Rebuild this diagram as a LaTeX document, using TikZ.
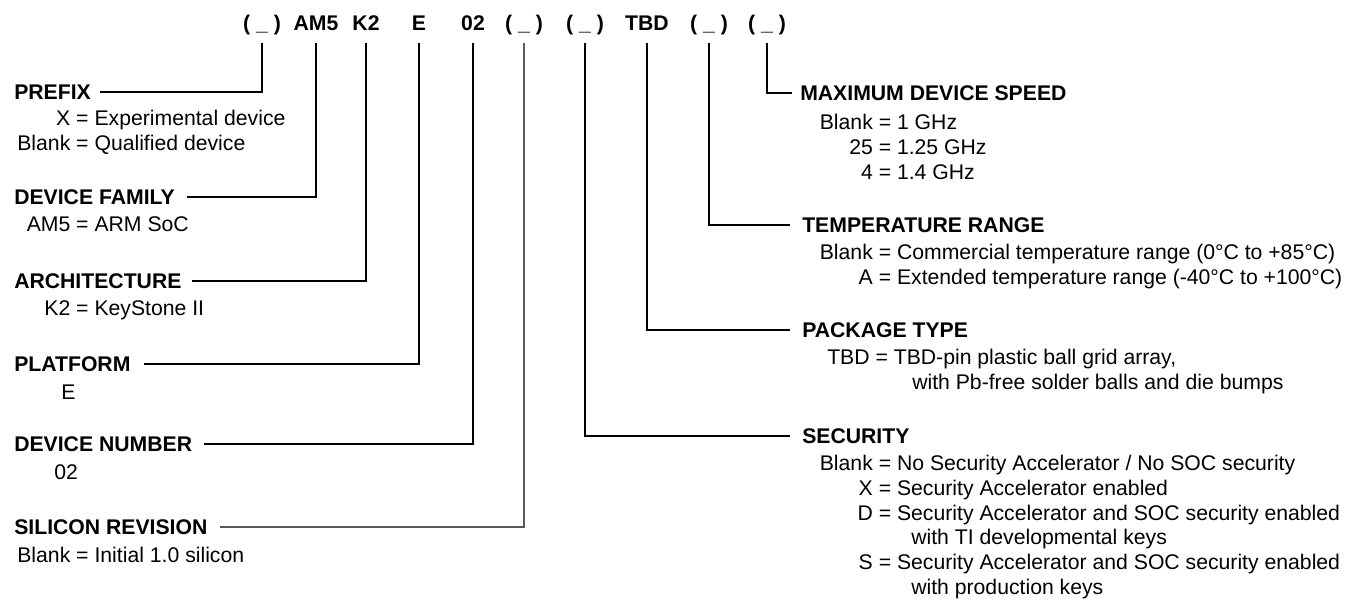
\documentclass[tikz,border=0pt]{standalone}
\usepackage{fontspec}
\setmainfont{Liberation Sans}
\usepackage{xcolor}

\newcommand{\eqfield}[2]{\llap{#1\ }= #2}

\begin{document}
\begin{tikzpicture}[x=0.75pt,y=0.75pt,yscale=-1,xscale=1,
  partno/.style={anchor=base,font=\fontsize{15.9}{19}\selectfont\bfseries,text height=11.4pt,text depth=3pt,inner xsep=0pt,inner ysep=6.4pt},
  fieldhd/.style={anchor=west,font=\fontsize{15.9}{19}\selectfont\bfseries,text height=11.4pt,text depth=0pt,inner sep=0pt},
  fieldtx/.style={anchor=base west,font=\fontsize{15.9}{19}\selectfont,inner sep=0pt},
  lead/.style={line width=0.8pt}]
\useasboundingbox (0,0) rectangle (1359,601);

% Part number fields
\draw (262,30.6) node [partno] (c1) {( \_ )};
\draw (316,30.6) node [partno] (c2) {AM5};
\draw (366,30.6) node [partno] (c3) {K2};
\draw (419,30.6) node [partno] (c4) {E};
\draw (473,30.6) node [partno] (c5) {02};
\draw (524,30.6) node [partno] (c6) {( \_ )};
\draw (585,30.6) node [partno] (c7) {( \_ )};
\draw (647,30.6) node [partno] (c8) {TBD};
\draw (709,30.6) node [partno] (c9) {( \_ )};
\draw (767,30.6) node [partno] (c10) {( \_ )};

% Text Node
\draw (14,92) node [fieldhd] (pfx) {PREFIX};
\draw (76,125.6) node [fieldtx] {\eqfield{X}{Experimental device}};
\draw (76,150.6) node [fieldtx] {\eqfield{Blank}{Qualified device}};
% Text Node
\draw (14,197) node [fieldhd] (fam) {DEVICE FAMILY};
\draw (76,231.6) node [fieldtx] {\eqfield{AM5}{ARM SoC}};
% Text Node
\draw (14,281) node [fieldhd] (arch) {ARCHITECTURE};
\draw (76,315.6) node [fieldtx] {\eqfield{K2}{KeyStone II}};
% Text Node
\draw (14,364) node [fieldhd] (plat) {PLATFORM};
\draw (61,399.6) node [fieldtx] {E};
% Text Node
\draw (14,444) node [fieldhd] (dnum) {DEVICE NUMBER};
\draw (54,479.2) node [fieldtx] {02};
% Text Node
\draw (14,527) node [fieldhd] (srev) {SILICON REVISION};
\draw (76,562.6) node [fieldtx] {\eqfield{Blank}{Initial 1.0 silicon}};

% Text Node
\draw (800,93) node [fieldhd] (mspd) {MAXIMUM DEVICE SPEED};
\draw (878.5,129.6) node [fieldtx] {\eqfield{Blank}{1 GHz}};
\draw (878.5,154.3) node [fieldtx] {\eqfield{25}{1.25 GHz}};
\draw (878.5,179) node [fieldtx] {\eqfield{4}{1.4 GHz}};
% Text Node
\draw (802,225) node [fieldhd] (trng) {TEMPERATURE RANGE};
\draw (878.5,259.6) node [fieldtx] {\eqfield{Blank}{Commercial temperature range (0°C to +85°C)}};
\draw (878.5,284.3) node [fieldtx] {\eqfield{A}{Extended temperature range (-40°C to +100°C)}};
% Text Node
\draw (802,330) node [fieldhd] (pkg) {PACKAGE TYPE};
\draw (827,364.6) node [fieldtx] {TBD = TBD-pin plastic ball grid array,};
\draw (912,389.3) node [fieldtx] {with Pb-free solder balls and die bumps};
% Text Node
\draw (802,436) node [fieldhd] (sec) {SECURITY};
\draw (878.5,470.6) node [fieldtx] {\eqfield{Blank}{No Security Accelerator / No SOC security}};
\draw (878.5,495.3) node [fieldtx] {\eqfield{X}{Security Accelerator enabled}};
\draw (878.5,520) node [fieldtx] {\eqfield{D}{Security Accelerator and SOC security enabled}};
\draw (911,544.7) node [fieldtx] {with TI developmental keys};
\draw (878.5,569.4) node [fieldtx] {\eqfield{S}{Security Accelerator and SOC security enabled}};
\draw (911,594.1) node [fieldtx] {with production keys};

%Straight Lines
\draw [lead] ([xshift=7pt]pfx.east) -| (c1.south);
\draw [lead] ([xshift=9pt]fam.east) -| (c2.south);
\draw [lead] ([xshift=8pt]arch.east) -| (c3.south);
\draw [lead] ([xshift=10pt]plat.east) -| (c4.south);
\draw [lead] ([xshift=9pt]dnum.east) -| (c5.south);
\draw [lead,color=black!65] ([xshift=9pt]srev.east) -| (c6.south);
\draw [lead] (c7.south) |- ([xshift=-9pt]sec.west);
\draw [lead] (c8.south) |- ([xshift=-9pt]pkg.west);
\draw [lead] (c9.south) |- ([xshift=-9pt]trng.west);
\draw [lead] (c10.south) |- ([xshift=-6pt]mspd.west);

\end{tikzpicture}
\end{document}
